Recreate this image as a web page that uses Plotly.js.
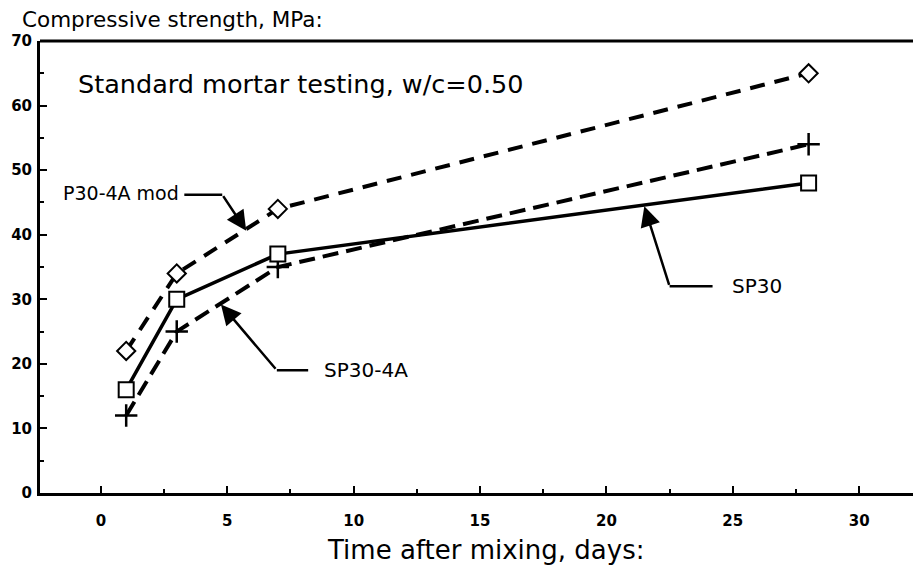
<!DOCTYPE html>
<html><head><meta charset="utf-8">
<script src="https://cdn.plot.ly/plotly-3.0.1.min.js"></script>
<style>body{margin:0;background:#fff}#c{width:913px;height:576px}</style>
</head><body><div id="c"></div>
<script>
const days = [1, 3, 7, 28];
const p30_4a_mod = [22, 34, 44, 65];
const sp30 = [16, 30, 37, 48];
const sp30_4a = [12, 25, 35, 54];
const xTicks = [0, 5, 10, 15, 20, 25, 30];
const yTicks = [0, 10, 20, 30, 40, 50, 60, 70];

const F = "DejaVu Sans, Arial, sans-serif";
const traces = [
  {x: days, y: sp30_4a, mode: 'lines+markers', name: 'SP30-4A',
   line: {color: '#000', width: 4, dash: '16px,8px'},
   marker: {symbol: 'cross-thin', size: 16, line: {color: '#000', width: 2.5}}},
  {x: days, y: p30_4a_mod, mode: 'lines+markers', name: 'P30-4A mod',
   line: {color: '#000', width: 4, dash: '15px,10px'},
   marker: {symbol: 'diamond', size: 14, color: '#fff', line: {color: '#000', width: 2}}},
  {x: days, y: sp30, mode: 'lines+markers', name: 'SP30',
   line: {color: '#000', width: 3.5},
   marker: {symbol: 'square', size: 15, color: '#fff', line: {color: '#000', width: 2}}}
];

const shapes = [
  {type: 'line', xref: 'paper', yref: 'paper', x0: 0, y0: 1, x1: 1, y1: 1, line: {color: '#000', width: 3}},
  {type: 'line', xref: 'x', yref: 'y', x0: 3.3, y0: 46.2, x1: 4.8, y1: 46.2, line: {color: '#000', width: 2.5}},
  {type: 'line', xref: 'x', yref: 'y', x0: 6.96, y0: 19.0, x1: 8.2, y1: 19.0, line: {color: '#000', width: 2.5}},
  {type: 'line', xref: 'x', yref: 'y', x0: 22.5, y0: 32.0, x1: 24.2, y1: 32.0, line: {color: '#000', width: 2.5}}
];

const arrow = {showarrow: true, arrowhead: 2, arrowsize: 1.6, arrowwidth: 2.5, arrowcolor: '#000', standoff: 0};
const annotations = [
  {text: 'Compressive strength, MPa:', xref: 'paper', yref: 'paper', x: -0.023, y: 1.0, yshift: 22, xanchor: 'left', yanchor: 'middle', showarrow: false, font: {family: F, size: 21.5, color: '#000'}},
  {text: 'Time after mixing, days:', xref: 'paper', yref: 'paper', x: 0.5, y: 0, xshift: 9, yshift: -57, xanchor: 'center', yanchor: 'middle', showarrow: false, font: {family: F, size: 26, color: '#000'}},
  {text: 'Standard mortar testing, w/c=0.50', xref: 'x', yref: 'y', x: -1.0, y: 63.3, xanchor: 'left', yanchor: 'middle', showarrow: false, font: {family: F, size: 25.5, color: '#000'}},
  {text: 'P30-4A mod', xref: 'x', yref: 'y', x: 3.15, y: 46.4, xanchor: 'right', yanchor: 'middle', showarrow: false, font: {family: F, size: 19, color: '#000'}},
  {text: 'SP30-4A', xref: 'x', yref: 'y', x: 8.75, y: 19.0, xanchor: 'left', yanchor: 'middle', showarrow: false, font: {family: F, size: 20, color: '#000'}},
  {text: 'SP30', xref: 'x', yref: 'y', x: 24.9, y: 32.0, xanchor: 'left', yanchor: 'middle', showarrow: false, font: {family: F, size: 20, color: '#000'}},
  Object.assign({text: '', xref: 'x', yref: 'y', axref: 'x', ayref: 'y', x: 5.75, y: 40.6, ax: 4.8, ay: 46.2}, arrow),
  Object.assign({text: '', xref: 'x', yref: 'y', axref: 'x', ayref: 'y', x: 4.75, y: 29.2, ax: 6.96, ay: 19.0}, arrow),
  Object.assign({text: '', xref: 'x', yref: 'y', axref: 'x', ayref: 'y', x: 21.5, y: 44.4, ax: 22.5, ay: 32.0}, arrow)
];

const layout = {
  width: 913, height: 576,
  margin: {l: 40, r: 0, t: 41, b: 83},
  paper_bgcolor: '#fff', plot_bgcolor: '#fff',
  showlegend: false,
  xaxis: {range: [-2.41, 32.13], tickvals: xTicks, ticktext: xTicks.map(String),
    showgrid: false, zeroline: false, showline: true, linecolor: '#000', linewidth: 3,
    ticks: 'inside', ticklen: 7, tickwidth: 2, tickcolor: '#000',
    minor: {dtick: 2.5, ticks: 'inside', ticklen: 4, tickwidth: 2, tickcolor: '#000', showgrid: false},
    tickfont: {family: F, size: 15, color: '#000', weight: 'bold'}, ticklabelstandoff: 12},
  yaxis: {range: [0, 70], tickvals: yTicks, ticktext: yTicks.map(String),
    showgrid: false, zeroline: false, showline: true, linecolor: '#000', linewidth: 3,
    ticks: 'inside', ticklen: 7, tickwidth: 2, tickcolor: '#000',
    minor: {dtick: 5, ticks: 'inside', ticklen: 4, tickwidth: 2, tickcolor: '#000', showgrid: false},
    tickfont: {family: F, size: 15, color: '#000', weight: 'bold'}, ticklabelstandoff: 2},
  shapes: shapes,
  annotations: annotations
};
Plotly.newPlot('c', traces, layout, {displayModeBar: false, staticPlot: true});
</script></body></html>
